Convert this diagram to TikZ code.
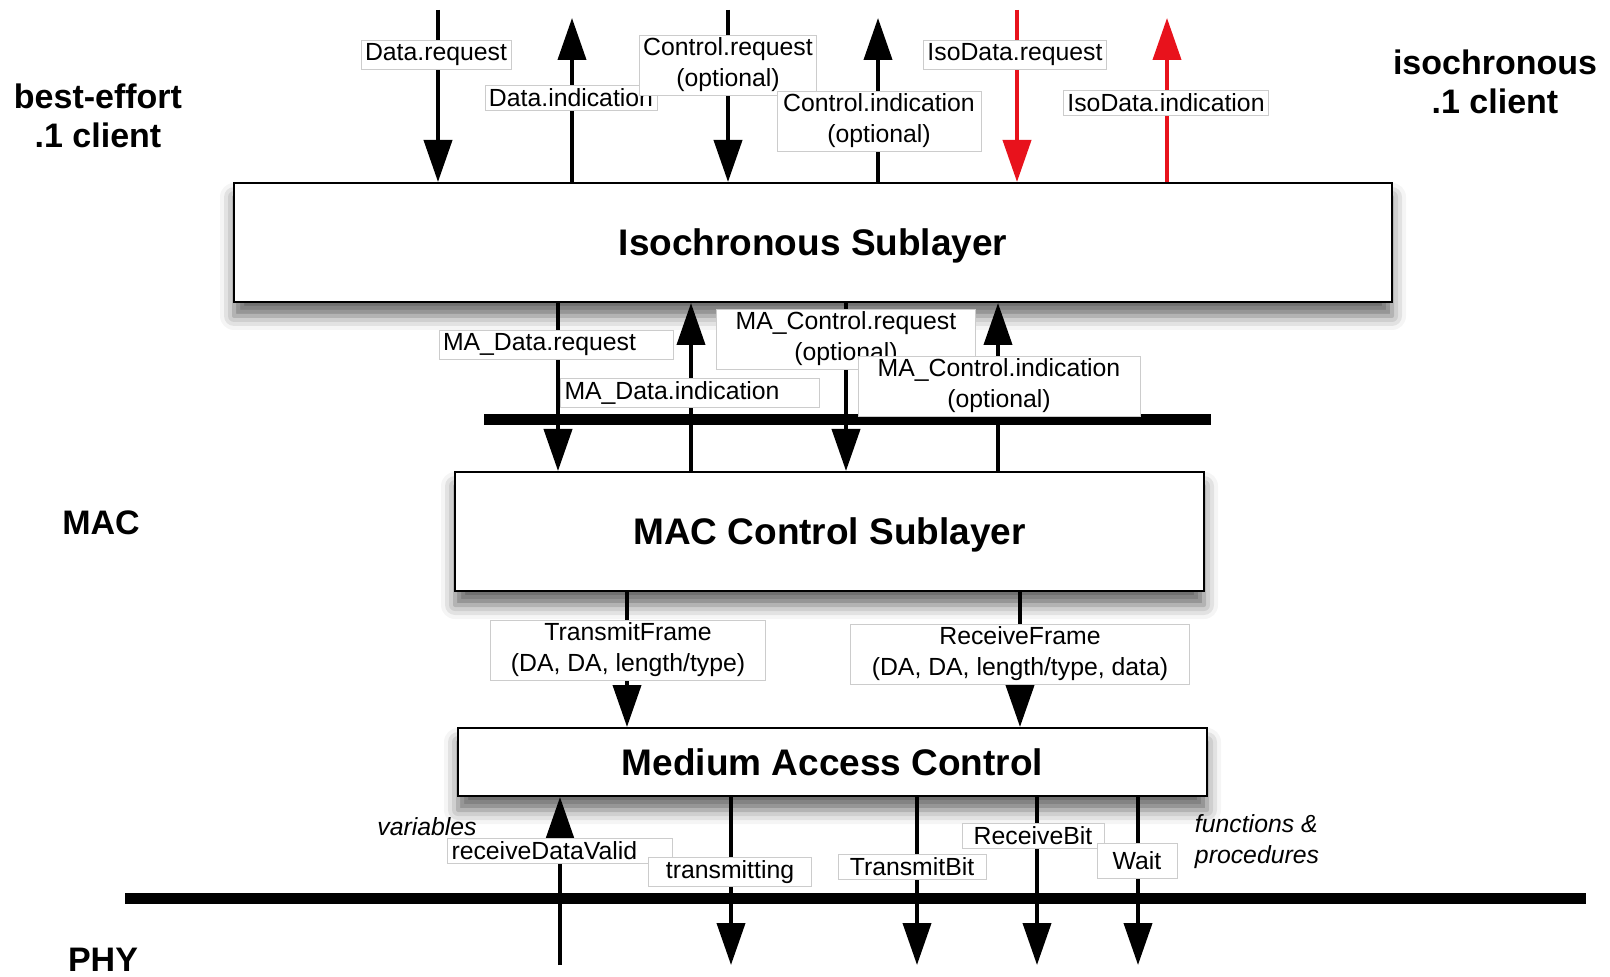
\documentclass[tikz,border=0pt]{standalone}
\usepackage{fontspec}
\setmainfont{Liberation Sans}
\usepackage{tikz}
\usetikzlibrary{arrows.meta}
\usetikzlibrary{shadows.blur}

\definecolor{isored}{RGB}{232,18,28}
\definecolor{lblgray}{gray}{0.8}

\tikzset{
	layer/.style={draw, line width=1pt, fill=white, text depth=0pt, font=\fontsize{18.5}{22}\selectfont\bfseries,
		blur shadow={shadow xshift=0pt, shadow yshift=-7pt, shadow blur radius=7pt, shadow opacity=60}},
	sig/.style={line width=2pt, -{Triangle[length=21pt,width=14pt]}},
	bus/.style={line width=5.5pt},
	lbl/.style={fill=white, draw=lblgray, line width=0.4pt, align=center, inner xsep=2pt, inner ysep=1.5pt,
		font=\fontsize{12.4}{15.5}\selectfont},
	side/.style={align=center, font=\fontsize{17}{19.5}\selectfont\bfseries},
	note/.style={align=left, font=\fontsize{12.4}{15.5}\selectfont\itshape}
}

\begin{document}
\begin{tikzpicture}[x=0.5pt, y=-0.5pt]
	\useasboundingbox (0,0) rectangle (1610,977);

	\node[layer, minimum width=579pt, minimum height=59.5pt] (iso) at (813,242.5) {Isochronous Sublayer};
	\node[layer, minimum width=374.5pt, minimum height=59.5pt] (macctrl) at (829.5,531.5) {MAC Control Sublayer};
	\node[layer, minimum width=374.5pt, minimum height=34pt] (mac) at (832.5,762) {Medium Access Control};

	\node[side] (besteffort) at (98,116) {best-effort\\.1 client};
	\node[side] (isoclient) at (1495,82) {isochronous\\.1 client};
	\node[side] (maclayer) at (101,523) {MAC};
	\node[side] (phylayer) at (103,960) {PHY};

	% buses
	\coordinate (busw) at (484,420);
	\coordinate (buse) at (1211,420);
	\draw[bus] (busw) -- (buse);
	\coordinate (phyw) at (125,898);
	\coordinate (phye) at (1586,898);
	\draw[bus] (phyw) -- (phye);

	% client primitives
	\coordinate (dreq) at (438,10);
	\coordinate (dind) at (572,18);
	\coordinate (creq) at (728,10);
	\coordinate (cind) at (878,18);
	\coordinate (isoreq) at (1017,10);
	\coordinate (isoind) at (1167,18);
	\draw[sig] (dreq) -- (iso.north -| dreq);
	\draw[sig] (iso.north -| dind) -- (dind);
	\draw[sig] (creq) -- (iso.north -| creq);
	\draw[sig] (iso.north -| cind) -- (cind);
	\draw[sig, isored] (isoreq) -- (iso.north -| isoreq);
	\draw[sig, isored] (iso.north -| isoind) -- (isoind);

	% MA_ primitives
	\coordinate (madreq) at (558,420);
	\coordinate (madind) at (691,420);
	\coordinate (macreq) at (846,420);
	\coordinate (macind) at (998,420);
	\draw[sig] (iso.south -| madreq) -- (macctrl.north -| madreq);
	\draw[sig] (macctrl.north -| madind) -- (iso.south -| madind);
	\draw[sig] (iso.south -| macreq) -- (macctrl.north -| macreq);
	\draw[sig] (macctrl.north -| macind) -- (iso.south -| macind);

	% frames
	\coordinate (txframe) at (627,650);
	\coordinate (rxframe) at (1020,650);
	\draw[sig] (macctrl.south -| txframe) -- (mac.north -| txframe);
	\draw[sig] (macctrl.south -| rxframe) -- (mac.north -| rxframe);

	% PHY interface
	\coordinate (rxvalid) at (560,965);
	\coordinate (txing) at (731,965);
	\coordinate (txbit) at (917,965);
	\coordinate (rxbit) at (1037,965);
	\coordinate (wait) at (1138,965);
	\draw[sig] (rxvalid) -- (mac.south -| rxvalid);
	\draw[sig] (mac.south -| txing) -- (txing);
	\draw[sig] (mac.south -| txbit) -- (txbit);
	\draw[sig] (mac.south -| rxbit) -- (rxbit);
	\draw[sig] (mac.south -| wait) -- (wait);

	\node[lbl] (dreqlbl) at (436,55) {Data.request};
	\node[lbl] (dindlbl) at (571,98) {Data.indication};
	\node[lbl] (creqlbl) at (728,65) {Control.request\\(optional)};
	\node[lbl, minimum width=102pt] (cindlbl) at (879,121) {Control.indication\\(optional)};
	\node[lbl] (isoreqlbl) at (1015,55) {IsoData.request};
	\node[lbl] (isoindlbl) at (1166,103) {IsoData.indication};

	\node[lbl, text width=113pt, align=left] (madreqlbl) at (556,345) {MA\_Data.request};
	\node[lbl, text width=125.5pt, align=left] (madindlbl) at (690,393) {MA\_Data.indication};
	\node[lbl, minimum width=129.5pt] (macreqlbl) at (846,339) {MA\_Control.request\\(optional)};
	\node[lbl, minimum width=141pt] (macindlbl) at (999,386) {MA\_Control.indication\\(optional)};

	\node[lbl, minimum width=137.5pt] (txframelbl) at (628,650) {TransmitFrame\\(DA, DA, length/type)};
	\node[lbl, minimum width=169.5pt] (rxframelbl) at (1020,654) {ReceiveFrame\\(DA, DA, length/type, data)};

	\node[note] (vars) at (427,827) {variables};
	\node[note] (funcs) at (1257,842) {functions \&\\procedures};
	\node[lbl, text width=108.5pt, align=left] (rxvalidlbl) at (560,851) {receiveDataValid};
	\node[lbl, minimum width=81.5pt] (txinglbl) at (730,872) {transmitting};
	\node[lbl, minimum width=74pt] (txbitlbl) at (912,867) {TransmitBit};
	\node[lbl, minimum width=71pt] (rxbitlbl) at (1033,836) {ReceiveBit};
	\node[lbl, minimum width=40pt, minimum height=17.5pt] (waitlbl) at (1137,861) {Wait};
\end{tikzpicture}
\end{document}
